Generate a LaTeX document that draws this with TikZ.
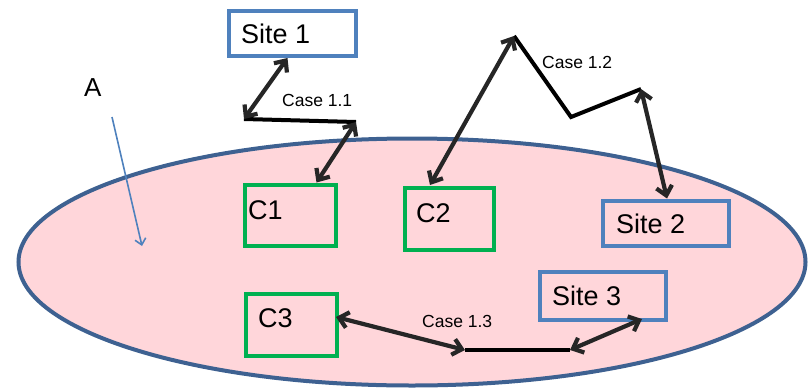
\documentclass[tikz,border=0pt]{standalone}
\usepackage{fontspec}
\setmainfont{Liberation Sans}
\usetikzlibrary{arrows.meta,calc,shapes.geometric}
\definecolor{areafill}{RGB}{255,214,218}
\definecolor{areaedge}{RGB}{62,97,145}
\definecolor{siteblue}{RGB}{79,129,189}
\definecolor{cgreen}{RGB}{0,176,80}
\definecolor{linkgray}{RGB}{38,38,38}
\begin{document}
\begin{tikzpicture}[x=1pt,y=-1pt,
  sitebox/.style={draw=siteblue,line width=4pt,inner sep=0pt},
  cbox/.style={draw=cgreen,line width=4pt,inner sep=0pt},
  boxtext/.style={anchor=base west,inner sep=0pt,font=\fontsize{27}{30}\selectfont},
  casetext/.style={anchor=base west,inner sep=0pt,font=\fontsize{17.5}{20}\selectfont},
  link/.style={draw=linkgray,line width=4.2pt,{Straight Barb[length=9pt,width=16pt]}-{Straight Barb[length=9pt,width=16pt]}},
  trail/.style={draw=black,line width=4pt,line join=miter},
]
\useasboundingbox (0,0) rectangle (808,391);

% region A
\node[draw=areaedge,line width=4pt,fill=areafill,ellipse,minimum width=787pt,minimum height=247pt,inner sep=0pt] (area) at (412,262) {};
\node[anchor=base west,inner sep=0pt,font=\fontsize{26}{30}\selectfont] (lblA) at (84,96) {A};
\coordinate (ptrA) at (142,246);
\draw[siteblue,line width=1.6pt,-{Straight Barb[length=6pt,width=11pt]}] (112,117) -- (ptrA);

% boxes
\node[sitebox,fill=white,minimum width=127pt,minimum height=45pt] (s1) at (292.5,33.5) {};
\node[boxtext] (s1t) at (241,43) {Site 1};
\node[cbox,minimum width=91pt,minimum height=61pt] (c1) at (290.5,215) {};
\node[boxtext] (c1t) at (248,219) {C1};
\node[cbox,minimum width=89pt,minimum height=62pt] (c2) at (449,219) {};
\node[boxtext] (c2t) at (416,222) {C2};
\node[sitebox,minimum width=126pt,minimum height=45pt] (s2) at (666,223) {};
\node[boxtext] (s2t) at (616,233) {Site 2};
\node[cbox,minimum width=91pt,minimum height=62pt] (c3) at (291.5,325) {};
\node[boxtext] (c3t) at (258,327) {C3};
\node[sitebox,minimum width=126pt,minimum height=48pt] (s3) at (603,296) {};
\node[boxtext] (s3t) at (552,305) {Site 3};

% case 1.1
\coordinate (p11a) at (244,119);
\coordinate (p11b) at (356,122);
\draw[trail] (p11a) -- (p11b);
\draw[link] ($(s1.south)+(-5,0)$) -- (p11a);
\draw[link] (p11b) -- ($(c1.north)+(26,0)$);
\node[casetext] (case11) at (282,106) {Case 1.1};

% case 1.2
\coordinate (p12a) at (514,36);
\coordinate (p12b) at (571,117);
\coordinate (p12c) at (641,89);
\draw[trail] (p12a) -- (p12b) -- (p12c);
\draw[link] ($(c2.north)+(-19,-1)$) -- (p12a);
\draw[link] (p12c) -- ($(s2.north)+(1,0)$);
\node[casetext] (case12) at (542,68) {Case 1.2};

% case 1.3
\coordinate (p13a) at (465,350);
\coordinate (p13b) at (570,350);
\draw[trail] (p13a) -- (p13b);
\draw[link] ($(c3.east)+(-3,-8)$) -- (p13a);
\draw[link] (p13b) -- ($(s3.south)+(39,-3)$);
\node[casetext] (case13) at (422,327) {Case 1.3};
\end{tikzpicture}
\end{document}
